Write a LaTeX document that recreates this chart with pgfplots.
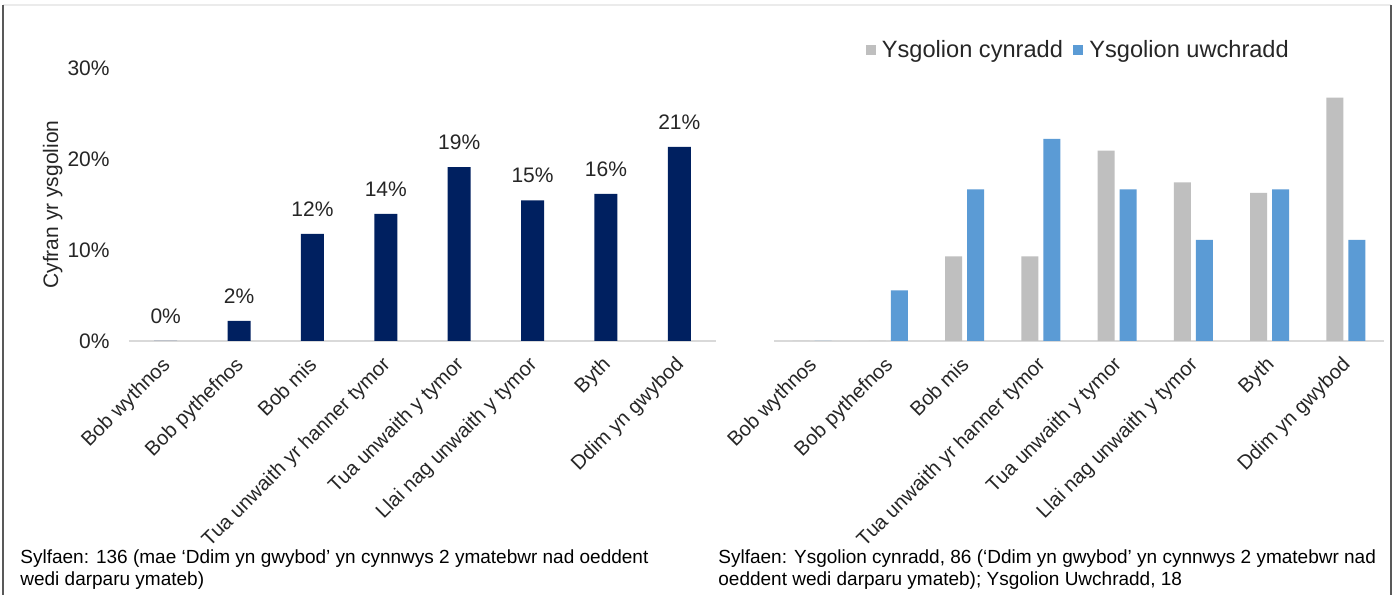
\documentclass[border=0pt]{standalone}
\usepackage{fontspec}
\setmainfont{Liberation Sans}
\usepackage{pgfplots}
\pgfplotsset{compat=1.18}
\definecolor{navy}{HTML}{002060}
\definecolor{cgrey}{HTML}{BFBFBF}
\definecolor{cblue}{HTML}{5B9BD5}
\definecolor{txt}{HTML}{262626}
\definecolor{axl}{HTML}{D9D9D9}
\definecolor{frame}{HTML}{595959}
\pgfplotsset{
 mybase/.style={
  scale only axis, height=136.5pt,
  anchor=south west,
  xmin=-0.5, xmax=7.5, ymin=0, ymax=30,
  xtick={0,...,7},
  xticklabels={Bob wythnos, Bob pythefnos, Bob mis, Tua unwaith yr hanner tymor, Tua unwaith y tymor, Llai nag unwaith y tymor, Byth, Ddim yn gwybod},
  axis x line=bottom,
  x axis line style={draw=axl, line width=0.8pt, -},
  major tick length=0pt,
  tick style={draw=none},
  xticklabel style={xshift=-2.5pt, yshift=-7pt, rotate=45, anchor=north east, inner sep=0pt,
    font=\fontsize{10.1}{12}\selectfont, text=txt},
  /pgf/number format/assume math mode=true,
  ybar,
  clip=false,
 }
}
\begin{document}
\begin{tikzpicture}
\useasboundingbox (0,0) rectangle (697pt,297.5pt);
\fill[white] (0,0) rectangle (697pt,297.5pt);
\draw[color=black!8, line width=0.6pt] (1.5pt,295pt) -- (695.5pt,295pt);
\draw[color=frame, line width=0.9pt] (1.5pt,0) -- (1.5pt,295pt);
\draw[color=frame, line width=0.9pt] (695.5pt,0) -- (695.5pt,295pt);

\begin{axis}[mybase, at={(64.5pt,127pt)}, width=293.5pt,
  axis y line=left, y axis line style={draw=none},
  ytick={0,10,20,30}, yticklabels={0\%,10\%,20\%,30\%},
  yticklabel style={anchor=east, inner sep=0pt, xshift=-9.5pt, font=\fontsize{10.5}{12}\selectfont, text=txt},
  ylabel={Cyfran yr ysgolion},
  ylabel style={at={(axis description cs:-0.13,0.5)}, rotate=0, anchor=center, font=\fontsize{10.5}{12}\selectfont, text=txt},
  nodes near coords={\pgfmathprintnumber[fixed,precision=0]{\pgfplotspointmeta}\%},
  nodes near coords style={font=\fontsize{10.5}{12}\selectfont, text=txt, inner sep=0pt, yshift=8.5pt},
  point meta=y,
]
\addplot[fill=navy, draw=none, bar width=11.5pt] coordinates {
(0,0) (1,2.21) (2,11.76) (3,13.97) (4,19.12) (5,15.44) (6,16.18) (7,21.32)};
\end{axis}

\begin{axis}[mybase, at={(387pt,127pt)}, width=305pt,
  axis y line=none, ytick=\empty,
  legend columns=2,
  legend style={at={(axis description cs:0.497,1.066)}, anchor=center, draw=none, fill=none,
    font=\fontsize{11.8}{14}\selectfont, text=txt, nodes={inner sep=0pt},
    /tikz/every odd column/.append style={column sep=3pt},
    /tikz/every even column/.append style={column sep=5pt}},
]
\addplot[fill=cgrey, draw=none, bar width=8.5pt, bar shift=-5.5pt,
  legend image code/.code={\fill[cgrey] (0pt,-2.6pt) rectangle (5.2pt,2.6pt);}] coordinates {
(0,0) (1,0) (2,9.30) (3,9.30) (4,20.93) (5,17.44) (6,16.28) (7,26.74)};
\addplot[fill=cblue, draw=none, bar width=8.5pt, bar shift=5.5pt,
  legend image code/.code={\fill[cblue] (0pt,-2.6pt) rectangle (5.2pt,2.6pt);}] coordinates {
(0,0) (1,5.56) (2,16.67) (3,22.22) (4,16.67) (5,11.11) (6,16.67) (7,11.11)};
\legend{Ysgolion cynradd, Ysgolion uwchradd}
\end{axis}

\fontsize{9.5}{10.5}\selectfont
\node[anchor=base west, inner sep=0pt, text=black] at (10pt,15.5pt) {Sylfaen: 136 (mae `Ddim yn gwybod' yn cynnwys 2 ymatebwr nad oeddent};
\node[anchor=base west, inner sep=0pt, text=black] at (10pt,5pt) {wedi darparu ymateb)};
\node[anchor=base west, inner sep=0pt, text=black] at (359pt,15.5pt) {Sylfaen: Ysgolion cynradd, 86 (`Ddim yn gwybod' yn cynnwys 2 ymatebwr nad};
\node[anchor=base west, inner sep=0pt, text=black] at (359pt,5pt) {oeddent wedi darparu ymateb); Ysgolion Uwchradd, 18};
\end{tikzpicture}
\end{document}
